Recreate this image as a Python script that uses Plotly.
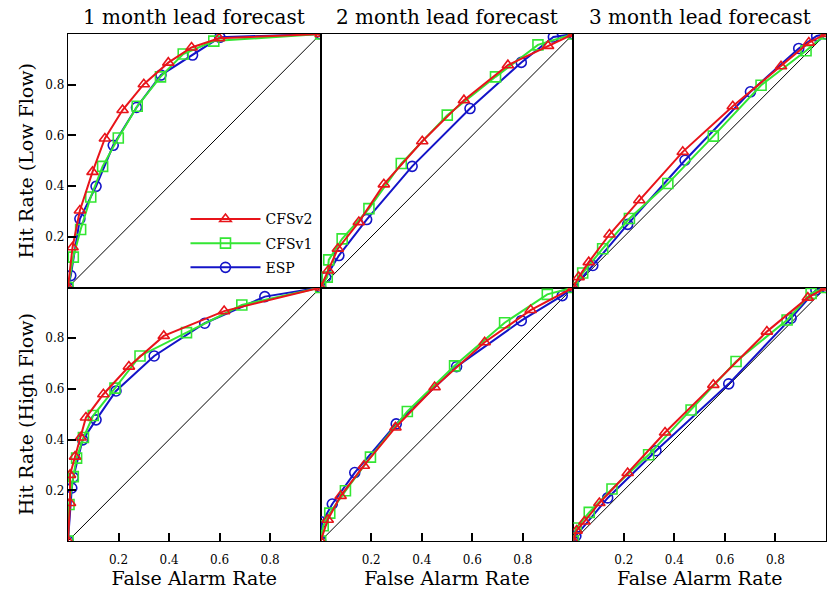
import plotly.graph_objects as go
from plotly.subplots import make_subplots

# ---------------- data (False Alarm Rate, Hit Rate) ----------------
col_titles = ["1 month lead forecast", "2 month lead forecast", "3 month lead forecast"]
row_titles = ["Hit Rate (Low Flow)", "Hit Rate (High Flow)"]
series_names = ["CFSv2", "CFSv1", "ESP"]
tick_vals = [0.2, 0.4, 0.6, 0.8]
tick_text = ["0.2", "0.4", "0.6", "0.8"]

# Low flow, 1 month lead
far_low1_cfsv2 = [0.0, 0.018, 0.047, 0.097, 0.146, 0.216, 0.300, 0.397, 0.489, 0.598, 1.0]
hr_low1_cfsv2 = [0.0, 0.159, 0.304, 0.456, 0.588, 0.700, 0.802, 0.887, 0.947, 0.983, 1.0]
far_low1_cfsv1 = [0.0, 0.021, 0.050, 0.090, 0.137, 0.199, 0.274, 0.366, 0.456, 0.577, 1.0]
hr_low1_cfsv1 = [0.0, 0.120, 0.229, 0.357, 0.478, 0.590, 0.715, 0.831, 0.921, 0.972, 1.0]
far_low1_esp = [0.0, 0.011, 0.047, 0.111, 0.179, 0.271, 0.368, 0.493, 0.601, 1.0]
hr_low1_esp = [0.0, 0.047, 0.271, 0.399, 0.561, 0.710, 0.838, 0.917, 0.987, 1.0]

# Low flow, 2 month lead
far_low2_cfsv2 = [0.0, 0.030, 0.068, 0.151, 0.250, 0.402, 0.567, 0.741, 0.900, 1.0]
hr_low2_cfsv2 = [0.0, 0.067, 0.153, 0.258, 0.407, 0.577, 0.739, 0.877, 0.953, 1.0]
far_low2_cfsv1 = [0.0, 0.026, 0.032, 0.085, 0.191, 0.319, 0.501, 0.692, 0.860, 1.0]
hr_low2_cfsv1 = [0.0, 0.041, 0.109, 0.192, 0.311, 0.489, 0.680, 0.831, 0.957, 1.0]
far_low2_esp = [0.0, 0.020, 0.072, 0.182, 0.362, 0.591, 0.794, 0.921, 1.0]
hr_low2_esp = [0.0, 0.040, 0.126, 0.268, 0.478, 0.706, 0.888, 0.988, 1.0]

# Low flow, 3 month lead
far_low3_cfsv2 = [0.0, 0.021, 0.061, 0.143, 0.261, 0.433, 0.631, 0.822, 0.932, 1.0]
hr_low3_cfsv2 = [0.0, 0.041, 0.100, 0.209, 0.344, 0.535, 0.715, 0.873, 0.966, 1.0]
far_low3_cfsv1 = [0.0, 0.037, 0.116, 0.222, 0.374, 0.554, 0.743, 0.921, 1.0]
hr_low3_cfsv1 = [0.0, 0.057, 0.153, 0.272, 0.410, 0.597, 0.798, 0.934, 1.0]
far_low3_esp = [0.0, 0.077, 0.215, 0.442, 0.701, 0.892, 0.963, 1.0]
hr_low3_esp = [0.0, 0.087, 0.249, 0.502, 0.772, 0.943, 0.992, 1.0]

# High flow, 1 month lead
far_high1_cfsv2 = [0.0, 0.008, 0.008, 0.028, 0.050, 0.071, 0.140, 0.241, 0.379, 0.618, 1.0]
hr_high1_cfsv2 = [0.0, 0.150, 0.261, 0.333, 0.408, 0.487, 0.579, 0.688, 0.809, 0.907, 1.0]
far_high1_cfsv1 = [0.0, 0.004, 0.021, 0.034, 0.061, 0.100, 0.186, 0.285, 0.469, 0.688, 1.0]
hr_high1_cfsv1 = [0.0, 0.144, 0.254, 0.327, 0.408, 0.495, 0.603, 0.730, 0.822, 0.931, 1.0]
far_high1_esp = [0.0, 0.015, 0.021, 0.058, 0.111, 0.190, 0.341, 0.541, 0.779, 1.0]
hr_high1_esp = [0.0, 0.209, 0.251, 0.399, 0.478, 0.592, 0.730, 0.859, 0.964, 1.0]

# High flow, 2 month lead
far_high2_cfsv2 = [0.0, 0.028, 0.079, 0.171, 0.296, 0.451, 0.649, 0.831, 1.0]
hr_high2_cfsv2 = [0.0, 0.084, 0.178, 0.297, 0.448, 0.607, 0.784, 0.911, 1.0]
far_high2_cfsv1 = [0.0, 0.010, 0.036, 0.098, 0.197, 0.343, 0.530, 0.728, 0.897, 1.0]
hr_high2_cfsv1 = [0.0, 0.060, 0.110, 0.198, 0.331, 0.511, 0.691, 0.861, 0.973, 1.0]
far_high2_esp = [0.0, 0.006, 0.046, 0.135, 0.299, 0.538, 0.794, 0.956, 1.0]
hr_high2_esp = [0.0, 0.075, 0.146, 0.270, 0.462, 0.688, 0.869, 0.968, 1.0]

# High flow, 3 month lead
far_high3_cfsv2 = [0.0, 0.013, 0.044, 0.103, 0.215, 0.363, 0.554, 0.766, 0.928, 1.0]
hr_high3_cfsv2 = [0.0, 0.041, 0.077, 0.150, 0.268, 0.428, 0.616, 0.826, 0.960, 1.0]
far_high3_cfsv1 = [0.0, 0.011, 0.063, 0.153, 0.298, 0.466, 0.644, 0.846, 0.941, 1.0]
hr_high3_cfsv1 = [0.0, 0.051, 0.113, 0.205, 0.340, 0.517, 0.708, 0.872, 0.977, 1.0]
far_high3_esp = [0.0, 0.010, 0.136, 0.327, 0.615, 0.862, 0.960, 1.0]
hr_high3_esp = [0.0, 0.020, 0.170, 0.356, 0.620, 0.879, 0.990, 1.0]

diag = [0.0, 1.0]

panels = [
    [(far_low1_cfsv2, hr_low1_cfsv2, far_low1_cfsv1, hr_low1_cfsv1, far_low1_esp, hr_low1_esp),
     (far_low2_cfsv2, hr_low2_cfsv2, far_low2_cfsv1, hr_low2_cfsv1, far_low2_esp, hr_low2_esp),
     (far_low3_cfsv2, hr_low3_cfsv2, far_low3_cfsv1, hr_low3_cfsv1, far_low3_esp, hr_low3_esp)],
    [(far_high1_cfsv2, hr_high1_cfsv2, far_high1_cfsv1, hr_high1_cfsv1, far_high1_esp, hr_high1_esp),
     (far_high2_cfsv2, hr_high2_cfsv2, far_high2_cfsv1, hr_high2_cfsv1, far_high2_esp, hr_high2_esp),
     (far_high3_cfsv2, hr_high3_cfsv2, far_high3_cfsv1, hr_high3_cfsv1, far_high3_esp, hr_high3_esp)],
]

# ---------------- styling ----------------
colors = ["#e8141a", "#33e633", "#1414c8"]
symbols = ["triangle-up-open", "square-open", "circle-open"]
msizes = [10, 10, 10]
FONT = "DejaVu Serif"

fig = make_subplots(rows=2, cols=3, horizontal_spacing=0, vertical_spacing=0)

for r in range(2):
    for c in range(3):
        fig.add_trace(go.Scatter(x=diag, y=diag, mode="lines",
                                 line=dict(color="black", width=1),
                                 showlegend=False, hoverinfo="skip"),
                      row=r + 1, col=c + 1)
        d = panels[r][c]
        for k in (2, 1, 0):
            fig.add_trace(go.Scatter(
                x=d[2 * k], y=d[2 * k + 1], mode="lines+markers",
                name=series_names[k], legendgroup=series_names[k],
                line=dict(color=colors[k], width=2),
                marker=dict(symbol=symbols[k], size=msizes[k], color=colors[k],
                            line=dict(color=colors[k], width=1.6)),
                showlegend=(r == 0 and c == 0), legendrank=k + 1,
                cliponaxis=True),
                row=r + 1, col=c + 1)

for r in range(1, 3):
    for c in range(1, 4):
        fig.update_xaxes(range=[0, 1], showgrid=False, zeroline=False, automargin=False,
                         showline=True, mirror=True, linecolor="black", linewidth=1.3,
                         tickvals=tick_vals, ticktext=tick_text,
                         ticks="inside" if r == 2 else "", ticklen=8, tickwidth=1.5,
                         tickcolor="black", showticklabels=(r == 2),
                         ticklabelstandoff=7,
                         tickfont=dict(family=FONT, size=12, color="black"),
                         title=dict(text="False Alarm Rate" if r == 2 else "",
                                    font=dict(family=FONT, size=19, color="black"),
                                    standoff=2),
                         row=r, col=c)
        fig.update_yaxes(range=[0, 1], showgrid=False, zeroline=False, automargin=False,
                         showline=True, mirror=True, linecolor="black", linewidth=1.3,
                         tickvals=tick_vals, ticktext=tick_text,
                         ticks="inside" if c == 1 else "", ticklen=8, tickwidth=1.5,
                         tickcolor="black", showticklabels=(c == 1),
                         tickfont=dict(family=FONT, size=12, color="black"),
                         title=dict(text=row_titles[r - 1] if c == 1 else "",
                                    font=dict(family=FONT, size=19, color="black"),
                                    standoff=6),
                         row=r, col=c)

for i, t in enumerate(col_titles):
    fig.add_annotation(text=t, xref="paper", yref="paper",
                       x=(i + 0.5) / 3, y=1.0, yshift=17, xanchor="center",
                       yanchor="middle", showarrow=False,
                       font=dict(family=FONT, size=20, color="black"))

fig.update_layout(
    width=829, height=591,
    margin=dict(l=68, r=3, t=34, b=50),
    plot_bgcolor="white", paper_bgcolor="white",
    legend=dict(x=0.155, y=0.666, xanchor="left", yanchor="top",
                bgcolor="rgba(0,0,0,0)", itemwidth=70, tracegroupgap=3,
                traceorder="grouped",
                font=dict(family=FONT, size=14, color="black")),
    showlegend=True,
)

# remove the default page margin so the figure fills the window exactly
fig.write_html("out.html",
               config={"displayModeBar": False},
               post_script="document.body.style.margin='0';"
                           "document.documentElement.style.overflow='hidden';")
